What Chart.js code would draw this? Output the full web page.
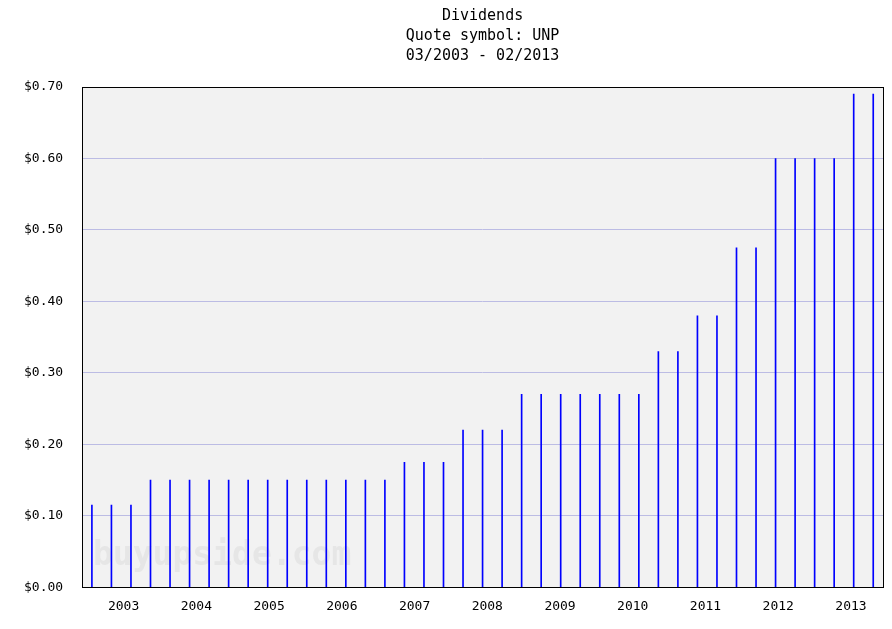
<!DOCTYPE html>
<html>
<head>
<meta charset="utf-8">
<script src="https://cdn.jsdelivr.net/npm/chart.js@4.4.1/dist/chart.umd.min.js"></script>
<style>
  body { margin: 0; background: #ffffff; }
</style>
</head>
<body>
<canvas id="dividends" width="892" height="629"></canvas>
<script>
'use strict';

// ex-dividend months, one per bar
var payDates = [
  '2003-03', '2003-06', '2003-09', '2003-12',
  '2004-03', '2004-06', '2004-09', '2004-12',
  '2005-03', '2005-06', '2005-09', '2005-12',
  '2006-03', '2006-06', '2006-09', '2006-12',
  '2007-03', '2007-06', '2007-09', '2007-12',
  '2008-03', '2008-06', '2008-09', '2008-12',
  '2009-03', '2009-06', '2009-09', '2009-12',
  '2010-03', '2010-06', '2010-09', '2010-12',
  '2011-03', '2011-06', '2011-09', '2011-12',
  '2012-03', '2012-06', '2012-09', '2012-12',
  '2013-02'
];

// dividend per share
var dividends = [
  0.115, 0.115, 0.115, 0.15,
  0.15, 0.15, 0.15, 0.15,
  0.15, 0.15, 0.15, 0.15,
  0.15, 0.15, 0.15, 0.15,
  0.175, 0.175, 0.175, 0.22,
  0.22, 0.22, 0.27, 0.27,
  0.27, 0.27, 0.27, 0.27,
  0.27, 0.33, 0.33, 0.38,
  0.38, 0.475, 0.475, 0.60,
  0.60, 0.60, 0.60, 0.69,
  0.69
];

var yearLabels = [2003, 2004, 2005, 2006, 2007, 2008, 2009, 2010, 2011, 2012, 2013];
var titleLines = ['Dividends', 'Quote symbol: UNP', '03/2003 - 02/2013'];

// plot background, frame and watermark
var plotBackground = {
  id: 'plotBackground',
  beforeDraw: function(chart) {
    var ctx = chart.ctx;
    var a = chart.chartArea;
    ctx.save();
    ctx.fillStyle = '#f2f2f2';
    ctx.fillRect(a.left, a.top, a.right - a.left, a.bottom - a.top);
    ctx.restore();
  },
  beforeDatasetsDraw: function(chart) {
    var ctx = chart.ctx;
    ctx.save();
    ctx.font = 'bold 33px "DejaVu Sans Mono"';
    ctx.fillStyle = '#e6e6e6';
    ctx.textBaseline = 'alphabetic';
    ctx.fillText('buyupside.com', 93, 565);
    ctx.restore();
  },
  afterDraw: function(chart) {
    var ctx = chart.ctx;
    var a = chart.chartArea;
    ctx.save();
    ctx.strokeStyle = '#000000';
    ctx.lineWidth = 1;
    ctx.strokeRect(Math.round(a.left) + 0.5, Math.round(a.top) + 0.5,
      Math.round(a.right - a.left), Math.round(a.bottom - a.top));
    ctx.restore();
  }
};

createDividendChart();

function createDividendChart() {
  var ctx = document.getElementById('dividends');
  var myBarChart = new Chart(ctx, {
    type: 'bar',
    data: {
      labels: payDates,
      datasets: [
        {
          label: 'Dividend',
          data: dividends,
          backgroundColor: '#0000ff',
          borderWidth: 0,
          barThickness: 1
        }]
    },
    options: {
      responsive: false,
      animation: false,
      layout: {
        padding: { left: 5, right: 9, top: 6, bottom: 4 }
      },
      plugins: {
        legend: { display: false },
        tooltip: { enabled: false },
        title: {
          display: true,
          fullSize: false,
          text: titleLines,
          color: '#000000',
          font: { family: '"DejaVu Sans Mono"', size: 15, weight: 'normal', lineHeight: 20 / 15 },
          padding: { top: 0, bottom: 21 }
        }
      },
      scales: {
        x: {
          display: false,
          offset: true
        },
        x2: {
          type: 'linear',
          position: 'bottom',
          offset: false,
          min: 2002.93,
          max: 2013.94,
          grid: { display: false, drawTicks: false, offset: false },
          border: { display: false },
          afterBuildTicks: function(axis) {
            axis.ticks = yearLabels.map(function(y) { return { value: y + 0.5 }; });
          },
          ticks: {
            autoSkip: false,
            maxRotation: 0,
            padding: 11,
            color: '#000000',
            font: { family: '"DejaVu Sans Mono"', size: 13 },
            callback: function(v) { return String(Math.floor(v)); }
          }
        },
        y: {
          min: 0,
          max: 0.7,
          grid: { color: '#bcbce4', drawTicks: false },
          border: { display: false },
          ticks: {
            stepSize: 0.1,
            padding: 19,
            color: '#000000',
            font: { family: '"DejaVu Sans Mono"', size: 13 },
            callback: function(v) { return '$' + v.toFixed(2); }
          }
        }
      }
    },
    plugins: [plotBackground]
  });
}
</script>
</body>
</html>
